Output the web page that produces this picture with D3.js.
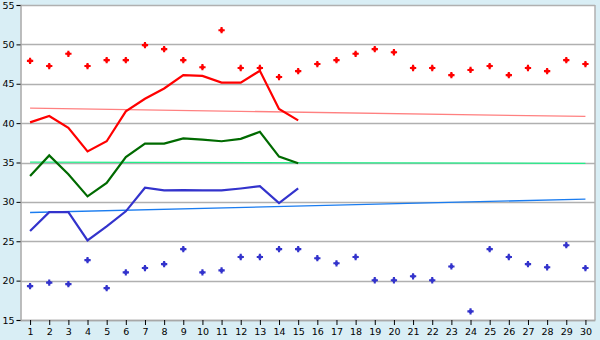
<!DOCTYPE html>
<html>
<head>
<meta charset="utf-8">
<script src="https://cdn.jsdelivr.net/npm/d3@7"></script>
<style>
  body { margin: 0; background: #d9eef5; }
  svg { display: block; }
  .tick text { font-family: "DejaVu Sans", Verdana, sans-serif; font-size: 9.5px; fill: #000; }
</style>
</head>
<body>
<div id="graph"></div>
<script>
var w = 600;
var h = 340;
var margin = {top: 5, right: 5, bottom: 20, left: 20.5};

// categories 1..30
var days = d3.range(1, 31);
var yTicks = [15, 20, 25, 30, 35, 40, 45, 50, 55];

// scatter points
var highDots = [47.9, 47.25, 48.8, 47.25, 48.0, 48.0, 49.9, 49.4, 48.0, 47.1,
                51.8, 47.0, 47.0, 45.85, 46.6, 47.5, 48.0, 48.8, 49.4, 49.0,
                47.0, 47.0, 46.1, 46.75, 47.25, 46.1, 47.0, 46.6, 48.0, 47.5];
var lowDots = [19.3, 19.75, 19.55, 22.6, 19.05, 21.05, 21.6, 22.1, 24.0, 21.05,
               21.3, 23.0, 23.0, 24.0, 24.0, 22.85, 22.2, 23.0, 20.05, 20.05,
               20.55, 20.05, 21.8, 16.1, 24.0, 23.0, 22.1, 21.7, 24.5, 21.6];

// lines, days 1..15
var redLine = [40.1, 40.9, 39.4, 36.4, 37.7, 41.5, 43.1, 44.4, 46.1, 46.0,
               45.15, 45.15, 46.65, 41.8, 40.35];
var greenLine = [33.3, 35.9, 33.5, 30.7, 32.4, 35.7, 37.4, 37.4, 38.05, 37.9,
                 37.7, 38.0, 38.9, 35.75, 34.9];
var blueLine = [26.3, 28.7, 28.7, 25.1, 26.9, 28.8, 31.8, 31.45, 31.5, 31.45,
                31.45, 31.7, 32.0, 29.85, 31.7];

// trend lines: value at day 1 and day 30
var redTrend = [41.9, 40.85];
var greenTrend = [35.05, 34.9];
var blueTrend = [28.65, 30.35];

var svg = d3.select("#graph").append("svg")
    .attr("width", w)
    .attr("height", h);

var x = d3.scalePoint()
    .domain(days)
    .range([margin.left, w - margin.right])
    .padding(0.5);

var y = d3.scaleLinear()
    .domain([15, 55])
    .range([h - margin.bottom, margin.top]);

// plot background
svg.append("rect")
    .attr("x", margin.left)
    .attr("y", margin.top)
    .attr("width", w - margin.right - margin.left)
    .attr("height", h - margin.bottom - margin.top)
    .style("fill", "white");

// gridlines
svg.selectAll(".grid")
    .data(yTicks)
    .enter()
    .append("line")
    .attr("class", "grid")
    .attr("x1", margin.left)
    .attr("x2", w - margin.right)
    .attr("y1", function(d){ return Math.round(y(d)) + 0.5; })
    .attr("y2", function(d){ return Math.round(y(d)) + 0.5; })
    .style("stroke", "#b0b0b0")
    .style("stroke-width", 1.5);

// right border
svg.append("line")
    .attr("x1", w - margin.right)
    .attr("x2", w - margin.right)
    .attr("y1", margin.top)
    .attr("y2", h - margin.bottom)
    .style("stroke", "#b0b0b0")
    .style("stroke-width", 1.5);

// trend lines
function trend(vals, color) {
  svg.append("line")
    .attr("x1", x(days[0]))
    .attr("x2", x(days[days.length - 1]))
    .attr("y1", y(vals[0]))
    .attr("y2", y(vals[1]))
    .style("stroke", color)
    .style("stroke-width", 1.3);
}
trend(redTrend, "#ff8080");
trend(greenTrend, "#22ee88");
trend(blueTrend, "#1a7cf0");

// data lines
var line = d3.line()
    .x(function(d, i){ return x(days[i]); })
    .y(function(d){ return y(d); });

function drawLine(vals, color) {
  svg.append("path")
    .datum(vals)
    .attr("d", line)
    .style("fill", "none")
    .style("stroke", color)
    .style("stroke-width", 2.2);
}
drawLine(redLine, "#ff0000");
drawLine(greenLine, "#006a00");
drawLine(blueLine, "#3333cc");

// dots: a cross with a thicker middle
var crossMark = d3.symbol().type(d3.symbolCross).size(22);
var centerMark = d3.symbol().type(d3.symbolSquare).size(10);

function drawDots(vals, color) {
  var g = svg.append("g").selectAll("g")
    .data(vals)
    .enter()
    .append("g")
    .attr("transform", function(d, i){
      return "translate(" + x(days[i]) + "," + y(d) + ")";
    });
  g.append("path").attr("d", crossMark).style("fill", color);
  g.append("path").attr("d", centerMark).style("fill", color);
}
drawDots(highDots, "#ff0000");
drawDots(lowDots, "#3333cc");

// axes
var yAxis = d3.axisLeft(y)
    .tickValues(yTicks)
    .tickSize(4)
    .tickPadding(2);
var gy = svg.append("g")
    .attr("transform", "translate(" + margin.left + ",0)")
    .call(yAxis);
gy.select(".domain").style("stroke", "#a8a8a8").style("stroke-width", 1.5);
gy.selectAll(".tick line").style("stroke", "#000");

var xAxis = d3.axisBottom(x)
    .tickSize(5)
    .tickSizeOuter(0)
    .tickPadding(3);
var gx = svg.append("g")
    .attr("transform", "translate(0," + (h - margin.bottom) + ")")
    .call(xAxis);
gx.select(".domain").style("stroke", "#a8a8a8").style("stroke-width", 1.5);
gx.selectAll(".tick line").style("stroke", "#000");
</script>
</body>
</html>
